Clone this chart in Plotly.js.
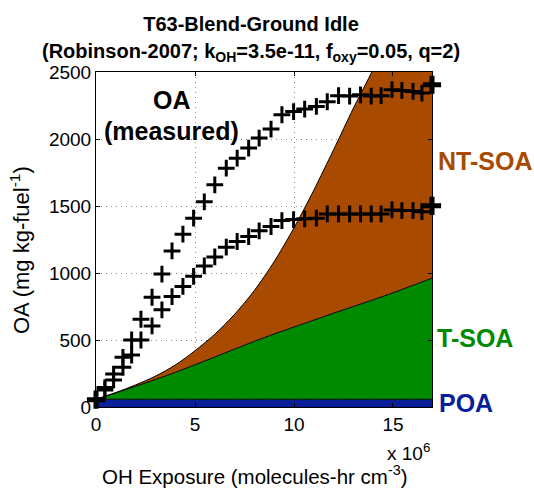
<!DOCTYPE html>
<html>
<head>
<meta charset="utf-8">
<script src="https://cdn.plot.ly/plotly-3.0.1.min.js"></script>
<style>html,body{margin:0;padding:0;background:#fff;}#chart{width:534px;height:491px;}</style>
</head>
<body>
<div id="chart"></div>
<script>
// OH exposure (units of 1e6 molecules-hr cm^-3) for the model curves
const modelX = [0, 1, 2, 3, 4, 5, 6, 7, 8, 9, 10, 11, 12, 13, 14, 15, 16, 16.97];
// stacked model components (mg kg-fuel^-1)
const poa   = [58, 58, 58, 58, 58, 58, 58, 58, 58, 58, 58, 58, 58, 58, 58, 58, 58, 58];
const tSoa  = [0, 47, 97, 147, 200, 257, 315, 374, 432, 487, 539, 590, 642, 692, 742, 794, 849, 904];
const ntSoa = [0, 3, 10, 25, 55, 105, 170, 260, 380, 540, 740, 970, 1220, 1480, 1720, 1970, 2220, 2460];

// measured OA (two series share the same exposures)
const oaX = [0, 0.45, 0.89, 1.36, 1.80, 2.27, 2.83, 3.33, 3.84, 4.39, 4.93, 5.47, 6.00, 6.58, 7.13,
             7.71, 8.24, 8.84, 9.39, 9.98, 10.54, 11.13, 11.68, 12.25, 12.81, 13.36, 13.90, 14.40,
             14.95, 15.45, 16.01, 16.46, 16.97];
const oaUpper = [55, 145, 246, 371, 500, 655, 819, 992, 1165, 1290, 1409, 1531, 1658, 1782, 1857,
                 1932, 2007, 2074, 2181, 2205, 2223, 2243, 2278, 2323, 2320, 2330, 2320, 2323,
                 2368, 2362, 2355, 2343, 2405];
const oaLower = [55, 127, 202, 296, 388, 500, 605, 725, 824, 900, 975, 1053, 1120, 1193, 1235,
                 1272, 1315, 1347, 1391, 1399, 1405, 1409, 1441, 1441, 1441, 1441, 1441, 1441,
                 1471, 1466, 1466, 1458, 1501];

const xTicks = [0, 5, 10, 15];
const yTicks = [0, 500, 1000, 1500, 2000, 2500];

const FONT = 'Liberation Sans, Arial, Helvetica, sans-serif';
const BROWN = '#A84A00', GREEN = '#008A00', BLUE = '#0A1E9A';

const last = oaX.length - 1;
const traces = [
  {x: modelX, y: poa, type: 'scatter', mode: 'lines', stackgroup: 'm', name: 'POA',
   line: {color: '#000', width: 1, shape: 'spline', smoothing: 0.8}, fillcolor: BLUE},
  {x: modelX, y: tSoa, type: 'scatter', mode: 'lines', stackgroup: 'm', name: 'T-SOA',
   line: {color: '#000', width: 1, shape: 'spline', smoothing: 0.8}, fillcolor: GREEN},
  {x: modelX, y: ntSoa, type: 'scatter', mode: 'lines', stackgroup: 'm', name: 'NT-SOA',
   line: {color: '#000', width: 1, shape: 'spline', smoothing: 0.8}, fillcolor: BROWN},
  {x: oaX, y: oaUpper, type: 'scatter', mode: 'markers', cliponaxis: false,
   marker: {symbol: 'cross-thin', size: 12, line: {color: '#000', width: 3}}},
  {x: oaX, y: oaLower, type: 'scatter', mode: 'markers', cliponaxis: false,
   marker: {symbol: 'cross-thin', size: 12, line: {color: '#000', width: 3}}},
  {x: [oaX[0], oaX[last], oaX[last]], y: [oaUpper[0], oaUpper[last], oaLower[last]],
   type: 'scatter', mode: 'markers', cliponaxis: false,
   marker: {symbol: 'cross-thin', size: 13, line: {color: '#000', width: 5}}}
];

const L = 96, R = 432, T = 72, B = 407;
const px = v => (v - L) / (R - L);
const py = v => (B - v) / (B - T);

const layout = {
  width: 534, height: 491,
  margin: {l: L, r: 534 - R, t: T, b: 491 - B, pad: 0},
  paper_bgcolor: '#fff', plot_bgcolor: '#fff',
  showlegend: false,
  font: {family: FONT, color: '#000', size: 19},
  title: {
    text: '<b>T63-Blend-Ground Idle</b>',
    font: {family: FONT, size: 20, color: '#000'},
    x: 251 / 534, xanchor: 'center', xref: 'container',
    y: 1 - 24 / 491, yanchor: 'middle', yref: 'container'
  },
  xaxis: {
    range: [0, 16.97], tickvals: xTicks, ticktext: xTicks.map(String),
    ticks: 'inside', ticklen: 4, tickcolor: '#000', tickwidth: 1,
    showline: true, linecolor: '#000', linewidth: 1, mirror: 'ticks',
    showgrid: true, gridcolor: '#8a8a8a', gridwidth: 1, griddash: '1px,4px',
    zeroline: false, tickfont: {size: 19, family: FONT}, fixedrange: true
  },
  yaxis: {
    range: [0, 2500], tickvals: yTicks, ticktext: yTicks.map(String),
    ticks: 'inside', ticklen: 4, tickcolor: '#000', tickwidth: 1,
    showline: true, linecolor: '#000', linewidth: 1, mirror: 'ticks',
    showgrid: true, gridcolor: '#8a8a8a', gridwidth: 1, griddash: '1px,4px',
    zeroline: false, tickfont: {size: 19, family: FONT}, fixedrange: true
  },
  annotations: [
    {text: '<b>(Robinson-2007; k<sub>OH</sub>=3.5e-11, f<sub>oxy</sub>=0.05, q=2)</b>',
     x: px(251), y: py(53), xref: 'paper', yref: 'paper', showarrow: false,
     font: {size: 20, family: FONT}, xanchor: 'center', yanchor: 'middle'},
    {text: '<b>OA</b>', x: px(171.7), y: py(100), xref: 'paper', yref: 'paper',
     showarrow: false, font: {size: 25, family: FONT}, xanchor: 'center', yanchor: 'middle'},
    {text: '<b>(measured)</b>', x: px(171.7), y: py(131), xref: 'paper', yref: 'paper',
     showarrow: false, font: {size: 25, family: FONT}, xanchor: 'center', yanchor: 'middle'},
    {text: '<b>NT-SOA</b>', x: px(436), y: py(161), xref: 'paper', yref: 'paper',
     showarrow: false, font: {size: 25, family: FONT, color: BROWN}, xanchor: 'left', yanchor: 'middle'},
    {text: '<b>T-SOA</b>', x: px(435), y: py(337.5), xref: 'paper', yref: 'paper',
     showarrow: false, font: {size: 25, family: FONT, color: GREEN}, xanchor: 'left', yanchor: 'middle'},
    {text: '<b>POA</b>', x: px(437), y: py(403), xref: 'paper', yref: 'paper',
     showarrow: false, font: {size: 25, family: FONT, color: BLUE}, xanchor: 'left', yanchor: 'middle'},
    {text: 'x 10<sup>6</sup>', x: 1, y: py(452), xref: 'paper', yref: 'paper',
     showarrow: false, font: {size: 19, family: FONT}, xanchor: 'right', yanchor: 'middle'},
    {text: 'OH Exposure (molecules-hr cm<sup>-3</sup>)', x: px(254.5), y: py(475), xref: 'paper', yref: 'paper',
     showarrow: false, font: {size: 20.5, family: FONT}, xanchor: 'center', yanchor: 'middle'},
    {text: 'OA (mg kg-fuel<sup>-1</sup>)', x: px(20), y: py(250), xref: 'paper', yref: 'paper',
     showarrow: false, textangle: -90, font: {size: 22, family: FONT}, xanchor: 'center', yanchor: 'middle'}
  ]
};

Plotly.newPlot('chart', traces, layout, {staticPlot: true, displayModeBar: false});
</script>
</body>
</html>
